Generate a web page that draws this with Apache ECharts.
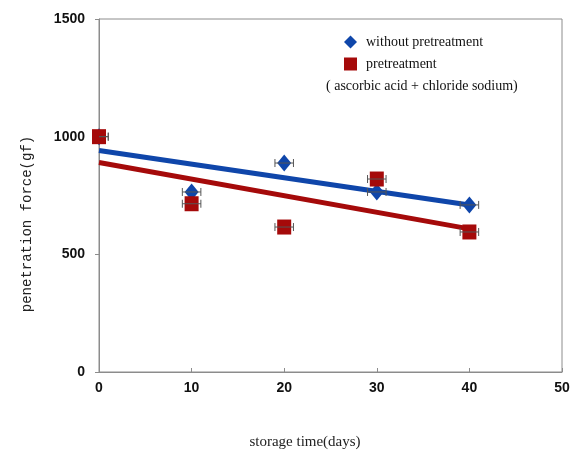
<!DOCTYPE html>
<html>
<head>
<meta charset="utf-8">
<script src="https://cdn.jsdelivr.net/npm/echarts@6/dist/echarts.min.js"></script>
<style>
  html, body { margin: 0; padding: 0; background: #fff; }
  #chart { width: 574px; height: 458px; }
</style>
</head>
<body>
<div id="chart"></div>
<script>
// storage time (days)
var days = [0, 10, 20, 30, 40];
// penetration force (gf)
var withoutPre = [1000, 765, 888, 765, 710];
var withPre = [1000, 715, 616, 820, 595];
// horizontal error (days)
var xErr = [1, 1, 1, 1, 1];
var xTicks = [0, 10, 20, 30, 40, 50];
var yTicks = [0, 500, 1000, 1500];

// least squares trend line over the data
function trend(xs, ys) {
  var n = xs.length, mx = 0, my = 0;
  for (var i = 0; i < n; i++) { mx += xs[i]; my += ys[i]; }
  mx /= n; my /= n;
  var sxy = 0, sxx = 0;
  for (var j = 0; j < n; j++) {
    sxy += (xs[j] - mx) * (ys[j] - my);
    sxx += (xs[j] - mx) * (xs[j] - mx);
  }
  var b = sxy / sxx, a = my - b * mx;
  var x0 = xs[0], x1 = xs[n - 1];
  return [[x0, a + b * x0], [x1, a + b * x1]];
}

function pairs(ys) {
  return days.map(function (d, i) { return [d, ys[i], xErr[i]]; });
}

function errBar(params, api) {
  var x = api.value(0), y = api.value(1), e = api.value(2);
  var lo = Math.max(x - e, xTicks[0]);
  var pl = api.coord([lo, y]);
  var pr = api.coord([x + e, y]);
  var h = 4;
  var st = { stroke: '#555', lineWidth: 1 };
  var kids = [
    { type: 'line', shape: { x1: pl[0], y1: pl[1], x2: pr[0], y2: pr[1] }, style: st },
    { type: 'line', shape: { x1: pr[0], y1: pr[1] - h, x2: pr[0], y2: pr[1] + h }, style: st }
  ];
  if (x - e >= xTicks[0]) {
    kids.push({ type: 'line', shape: { x1: pl[0], y1: pl[1] - h, x2: pl[0], y2: pl[1] + h }, style: st });
  }
  return { type: 'group', children: kids };
}

var blue = '#0f46aa';
var red = '#a50a0a';
var chart = echarts.init(document.getElementById('chart'));
var option = {
  animation: false,
  backgroundColor: '#fff',
  grid: {
    left: 99, right: 12, top: 19, bottom: 86,
    show: true, borderColor: '#8c8c8c', borderWidth: 1
  },
  legend: {
    data: [
      { name: 'without pretreatment', icon: 'diamond', itemStyle: { color: blue } },
      { name: 'pretreatment', icon: 'rect', itemStyle: { color: red } }
    ],
    orient: 'vertical',
    left: 339, top: 30,
    itemWidth: 13, itemHeight: 13, itemGap: 8,
    textStyle: { fontFamily: 'Liberation Serif', fontSize: 14, color: '#111', padding: [0, 0, 0, 4] }
  },
  graphic: [
    {
      type: 'text', left: 326, top: 79,
      style: { text: '( ascorbic acid + chloride sodium)', font: '14px "Liberation Serif"', fill: '#111' }
    },
    {
      type: 'text', x: 27, y: 224, rotation: Math.PI / 2,
      style: {
        text: 'penetration force(gf)', font: '14px "Liberation Mono"', fill: '#222',
        align: 'center', verticalAlign: 'middle'
      }
    },
    {
      type: 'text', x: 305, y: 442,
      style: {
        text: 'storage time(days)', font: '15px "Liberation Serif"', fill: '#222',
        align: 'center', verticalAlign: 'middle'
      }
    }
  ],
  xAxis: {
    type: 'value', min: xTicks[0], max: xTicks[xTicks.length - 1], interval: 10,
    axisLine: { lineStyle: { color: '#8c8c8c' } },
    axisTick: { inside: true, length: 4, lineStyle: { color: '#8c8c8c' } },
    splitLine: { show: false },
    axisLabel: { margin: 9, color: '#111', fontFamily: 'Liberation Sans', fontWeight: 'bold', fontSize: 14 }
  },
  yAxis: {
    type: 'value', min: yTicks[0], max: yTicks[yTicks.length - 1], interval: 500,
    axisLine: { show: true, lineStyle: { color: '#8c8c8c' } },
    axisTick: { show: true, length: 4, lineStyle: { color: '#8c8c8c' } },
    splitLine: { show: false },
    axisLabel: {
      margin: 14, color: '#111', fontFamily: 'Liberation Sans', fontWeight: 'bold', fontSize: 14,
      formatter: function (v) { return String(v); }
    }
  },
  series: [
    {
      name: 'trend without', type: 'line', data: trend(days, withoutPre),
      showSymbol: false, lineStyle: { color: blue, width: 5 }, z: 2
    },
    {
      name: 'trend with', type: 'line', data: trend(days, withPre),
      showSymbol: false, lineStyle: { color: red, width: 5 }, z: 2
    },
    {
      name: 'without pretreatment', type: 'scatter', data: pairs(withoutPre),
      symbol: 'diamond', symbolSize: [14, 17], itemStyle: { color: blue, opacity: 1 }, z: 3
    },
    {
      name: 'pretreatment', type: 'scatter', data: pairs(withPre),
      symbol: 'rect', symbolSize: [14, 15], itemStyle: { color: red, opacity: 1 }, z: 4
    },
    {
      name: 'err with', type: 'custom', data: pairs(withPre),
      renderItem: errBar, z: 5
    },
    {
      name: 'err without', type: 'custom', data: pairs(withoutPre),
      renderItem: errBar, z: 5
    }
  ]
};
chart.setOption(option);
</script>
</body>
</html>
